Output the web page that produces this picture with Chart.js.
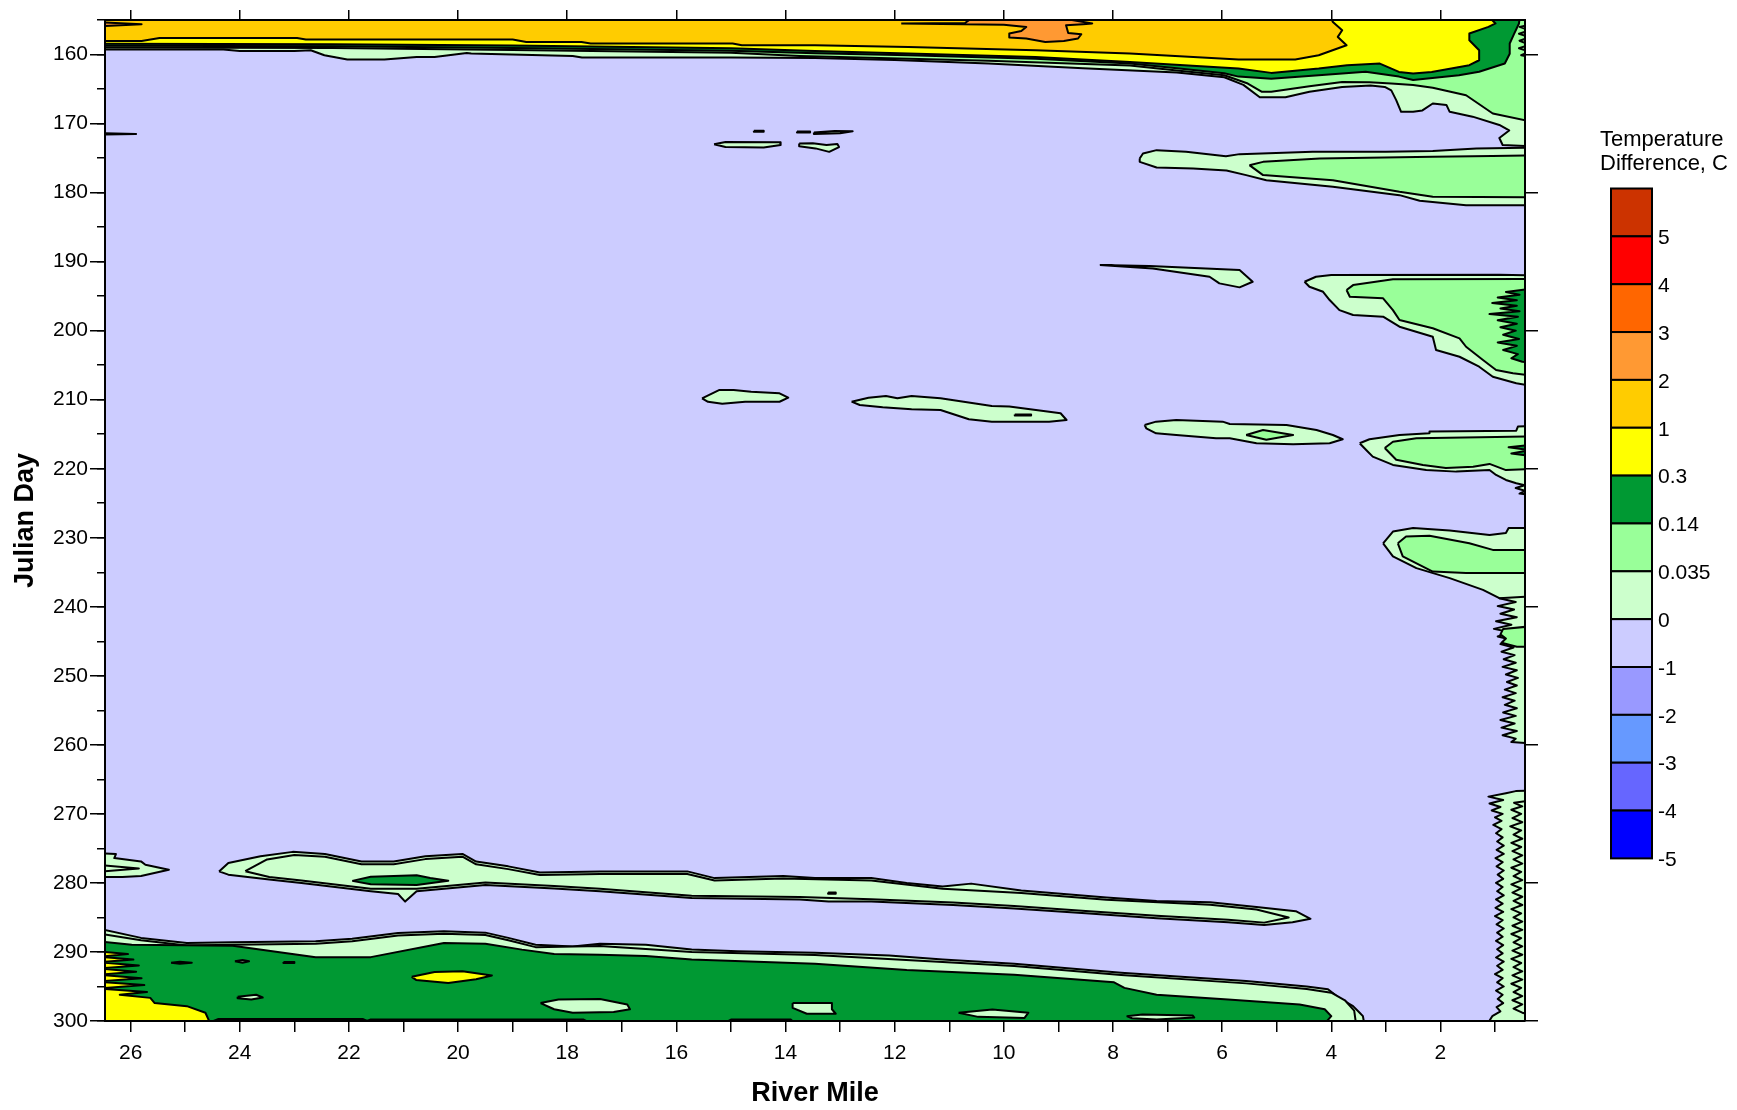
<!DOCTYPE html>
<html>
<head>
<meta charset="utf-8">
<script src="https://cdn.jsdelivr.net/npm/chart.js@4/dist/chart.umd.min.js"></script>
<style>
html,body{margin:0;padding:0;background:#fff;}
canvas{display:block;}
</style>
</head>
<body>
<canvas id="c" width="1737" height="1110"></canvas>
<script>
// ---------- axis ranges ----------
const mileRange = [0.45, 26.47];   // River Mile (reversed: 26.47 left, 0.45 right)
const dayRange = [155, 300];       // Julian Day (reversed: 155 top)

// ---------- legend (colour bar) ----------
const legendLabels = ['5','4','3','2','1','0.3','0.14','0.035','0','-1','-2','-3','-4','-5'];
const legendColors = ['#CC3300','#FF0000','#FF6600','#FF9933','#FFCC00','#FFFF00','#009933','#99FF99','#CCFFCC','#CCCCFF','#9999FF','#6699FF','#6666FF','#0000FF'];
const legendTitle = ['Temperature', 'Difference, C'];
// level index into legendColors
const LAV = 9, PALE = 8, LIGHT = 7, DKG = 6, YEL = 5, GOLD = 4, ORG = 3;

// ---------- contour regions [river mile, julian day] ----------
const baseRegion = [[26.6,154.8],[0.3,154.8],[0.3,300.2],[26.6,300.2],[26.6,154.8]];

const topPale = [[26.6,154.8],[0.3,154.8],[0.3,173.3],[0.86,173.1],[0.92,172.1],[0.74,171.0],[0.92,170.2],[1.41,169.0],[1.83,168.3],[1.89,167.3],[2.14,167.1],[2.33,168.1],[2.5,168.3],[2.72,168.3],[2.81,166.6],[2.9,165.2],[3.02,164.7],[3.28,164.5],[3.8,164.7],[4.4,165.4],[4.84,166.2],[5.31,166.2],[5.61,164.4],[5.96,163.3],[6.83,162.6],[8.55,162.0],[10.28,161.3],[12.0,160.8],[13.46,160.5],[15.0,160.43],[17.73,160.43],[17.9,160.2],[19.76,159.86],[19.84,159.77],[20.43,160.35],[20.76,160.35],[21.35,160.72],[22.03,160.72],[22.45,160.1],[22.7,159.38],[23.0,159.48],[24.0,159.48],[24.3,159.28],[26.6,159.28],[26.6,154.8]];
const topLight = [[26.6,154.8],[0.3,154.8],[0.3,169.76],[1.04,168.54],[1.53,165.9],[2.14,164.8],[2.5,164.4],[2.9,164.2],[3.3,164.0],[3.8,163.97],[4.4,164.6],[5.1,165.4],[5.27,165.4],[5.53,164.2],[5.96,163.0],[6.83,162.3],[7.69,161.6],[10.28,160.9],[13.74,160.2],[15.0,159.75],[19.0,159.35],[22.3,159.05],[26.6,158.98],[26.6,154.8]];
const topDkGreen = [[26.6,154.8],[0.55,154.8],[0.56,155.5],[0.65,157.0],[0.73,158.4],[0.73,159.9],[0.82,161.3],[1.29,162.5],[1.66,163.0],[2.5,163.7],[2.76,163.2],[3.37,162.5],[4.23,163.0],[5.1,163.5],[5.7,163.2],[5.96,162.7],[6.83,162.0],[7.69,161.3],[9.42,160.6],[11.75,160.1],[13.46,159.8],[15.0,159.45],[19.0,159.05],[22.3,158.8],[26.6,158.72],[26.6,154.8]];
const topYellow = [[26.6,154.8],[1.08,154.8],[0.99,155.5],[1.12,156.0],[1.47,156.96],[1.47,157.93],[1.29,159.38],[1.29,160.83],[1.47,161.55],[2.16,162.52],[2.5,162.76],[2.76,162.52],[3.11,161.31],[3.71,161.55],[4.23,162.04],[5.1,162.66],[5.7,162.04],[7.69,161.07],[9.42,160.35],[11.75,159.86],[13.46,159.5],[15.0,159.1],[19.0,158.7],[22.3,158.5],[26.6,158.45],[26.6,154.8]];
const topGold = [[26.6,154.8],[4.0,154.8],[3.97,155.28],[3.8,156.48],[3.88,157.45],[3.72,158.65],[4.23,160.1],[4.66,160.73],[5.7,160.73],[7.69,159.86],[9.42,159.38],[11.75,158.9],[13.46,158.65],[14.8,158.65],[14.97,158.4],[17.57,158.4],[17.74,158.18],[18.75,158.18],[19.0,157.83],[22.79,157.83],[22.95,157.6],[25.47,157.6],[25.8,158.03],[26.6,158.03],[26.6,154.8]];
const topOrange = [[11.88,155.5],[10.71,155.43],[10.6,154.8],[8.9,154.8],[8.38,155.5],[8.55,155.61],[8.86,155.76],[8.82,156.87],[8.58,157.06],[8.64,157.68],[8.9,158.03],[9.24,158.18],[9.59,157.68],[9.9,157.54],[9.9,156.96],[9.68,156.58],[9.59,156.0],[10.0,155.7],[11.88,155.5]];
const topLeftOrange = [[26.6,155.3],[25.8,155.6],[26.6,155.9],[26.6,155.3]];
const topRightZig = [[0.3,155.6],[0.55,156.0],[0.36,156.5],[0.56,157.0],[0.36,157.5],[0.55,158.0],[0.37,158.6],[0.56,159.1],[0.36,159.6],[0.52,160.1],[0.3,160.4],[0.3,155.6]];

const band175Pale = [[7.51,175.06],[7.45,174.33],[7.2,173.85],[6.66,174.1],[5.93,174.72],[5.68,174.43],[4.34,174.1],[3.0,174.1],[2.14,173.96],[1.34,173.61],[0.3,173.5],[0.3,181.82],[1.53,181.82],[2.38,181.19],[2.75,180.37],[3.97,179.17],[5.19,178.2],[5.56,177.47],[5.92,176.8],[6.53,176.5],[7.2,176.36],[7.51,175.55],[7.51,175.06]];
const band175Light = [[5.5,176.03],[5.25,175.55],[4.21,175.06],[2.14,174.8],[1.05,174.7],[0.3,174.6],[0.3,180.7],[2.14,180.61],[2.75,179.89],[3.97,178.2],[5.25,177.47],[5.5,176.03]];

const blob15 = [[15.31,173.0],[15.1,172.67],[14.1,172.7],[14.09,173.1],[14.4,173.47],[15.1,173.4],[15.31,173.0]];
const dash145 = [[14.58,171.05],[14.4,171.05],[14.4,171.2],[14.58,171.2],[14.58,171.05]];
const dash137 = [[13.79,171.15],[13.55,171.15],[13.55,171.3],[13.79,171.3],[13.79,171.15]];
const sliver13 = [[13.48,171.3],[13.1,171.08],[12.77,171.1],[13.0,171.4],[13.48,171.5],[13.48,171.3]];
const blob13 = [[13.75,172.9],[13.5,172.85],[13.25,173.1],[13.05,172.95],[13.02,173.4],[13.2,174.1],[13.45,173.6],[13.75,173.3],[13.75,172.9]];
const leftDash171 = [[26.6,171.4],[25.9,171.5],[26.6,171.62],[26.6,171.4]];

const band190 = [[8.24,190.5],[7.33,190.65],[5.68,191.23],[5.44,192.92],[5.68,193.73],[6.05,193.15],[6.23,192.19],[7.27,190.98],[8.24,190.5]];

const right195Pale = [[4.49,192.92],[4.28,192.19],[4.0,191.95],[0.92,191.9],[0.3,192.0],[0.3,208.0],[0.61,207.63],[1.04,206.67],[1.29,205.22],[1.65,203.78],[2.08,202.81],[2.14,200.88],[2.75,199.43],[3.05,197.98],[3.6,197.74],[3.85,197.02],[4.03,195.57],[4.15,194.37],[4.4,193.64],[4.49,192.92]];
const right195Light = [[3.72,194.12],[3.6,193.4],[2.87,192.57],[0.3,192.5],[0.3,206.5],[0.67,206.18],[0.98,205.7],[1.22,204.25],[1.53,202.33],[1.65,201.11],[2.14,199.66],[2.75,198.46],[2.87,197.02],[3.05,195.32],[3.66,195.09],[3.72,194.12]];
const right195Dk = [[0.3,193.9],[0.8,194.4],[0.55,194.8],[0.95,195.2],[0.6,195.6],[1.05,196.0],[0.6,196.4],[0.9,196.8],[0.55,197.2],[1.1,197.6],[0.58,198.0],[0.95,198.5],[0.6,199.0],[0.9,199.5],[0.62,200.0],[0.85,200.6],[0.56,201.2],[0.95,201.7],[0.6,202.2],[0.85,202.8],[0.58,203.4],[0.7,204.0],[0.5,204.5],[0.3,204.7],[0.3,193.9]];

const blob209a = [[15.53,209.8],[15.21,208.58],[14.95,208.58],[14.63,208.84],[14.11,209.07],[13.95,209.71],[14.11,210.3],[14.74,210.3],[15.16,210.6],[15.42,210.3],[15.53,209.8]];
const blob209b = [[12.79,210.29],[12.48,209.71],[12.16,209.46],[11.95,209.8],[11.69,209.46],[11.16,209.8],[10.22,210.91],[9.9,211.0],[8.96,211.97],[8.85,212.94],[9.17,213.18],[10.22,213.18],[10.64,212.84],[11.16,211.49],[11.69,211.39],[12.22,211.1],[12.64,210.77],[12.79,210.29]];
const dash209 = [[9.8,212.15],[9.5,212.15],[9.5,212.3],[9.8,212.3],[9.8,212.15]];

const band214Pale = [[7.42,213.66],[7.21,213.18],[6.84,212.94],[5.99,213.18],[5.86,213.52],[4.82,213.66],[4.27,214.4],[3.97,215.11],[3.79,215.73],[4.03,216.31],[4.7,216.46],[5.37,216.31],[5.86,215.59],[6.11,215.59],[6.84,215.1],[7.21,214.87],[7.39,214.14],[7.42,213.66]];
const band214Lens = [[5.56,215.11],[5.25,214.4],[4.7,215.11],[5.19,215.8],[5.56,215.11]];

const right218Pale = [[3.48,216.31],[3.3,215.73],[2.75,215.11],[2.2,214.87],[2.2,214.6],[0.61,214.49],[0.58,213.9],[0.3,213.8],[0.3,223.8],[0.55,223.6],[0.45,223.2],[0.62,222.8],[0.45,222.4],[0.61,222.1],[0.8,221.63],[0.98,220.9],[1.1,220.18],[1.71,220.42],[2.26,220.18],[2.87,219.45],[3.24,218.25],[3.36,217.28],[3.48,216.31]];
const right218Light = [[3.02,217.0],[2.87,216.1],[2.44,215.6],[0.98,215.4],[0.3,215.3],[0.3,220.0],[0.8,220.2],[1.1,219.3],[1.4,219.7],[1.9,219.9],[2.32,219.45],[2.81,218.7],[3.02,217.0]];
const right218Dk = [[0.3,216.5],[0.75,216.9],[0.35,217.3],[0.7,217.8],[0.3,218.2],[0.3,216.5]];

const right232Pale = [[3.05,230.8],[2.87,229.1],[2.5,228.6],[1.83,228.96],[1.1,229.6],[0.8,229.3],[0.75,228.6],[0.3,228.6],[0.3,238.9],[0.92,238.75],[1.22,237.55],[1.83,235.85],[2.44,234.4],[2.87,232.7],[3.05,230.8]];
const right232Light = [[2.78,230.8],[2.63,229.83],[2.2,229.7],[1.47,230.8],[1.04,231.76],[0.3,231.76],[0.3,235.1],[1.53,235.1],[2.14,234.9],[2.69,232.7],[2.78,230.8]];

const zigA = [[0.3,238.5],[0.92,238.75],[0.62,239.3],[0.95,239.9],[0.65,240.4],[0.9,241.0],[0.6,241.5],[0.98,242.1],[0.7,242.6],[1.02,243.2],[0.72,243.7],[0.95,244.3],[0.68,244.8],[0.9,245.4],[0.66,245.9],[0.88,246.5],[0.64,247.0],[0.84,247.6],[0.62,248.1],[0.86,248.7],[0.6,249.2],[0.8,249.8],[0.58,250.3],[0.78,250.9],[0.6,251.4],[0.82,252.0],[0.62,252.5],[0.86,253.1],[0.64,253.6],[0.82,254.2],[0.6,254.7],[0.85,255.3],[0.62,255.8],[0.9,256.4],[0.64,256.9],[0.88,257.5],[0.6,258.0],[0.86,258.6],[0.62,259.1],[0.7,259.6],[0.3,259.8],[0.3,238.5]];
const zigALight = [[0.3,242.8],[0.85,243.2],[0.9,244.0],[0.8,244.6],[0.88,245.2],[0.6,245.8],[0.3,245.8],[0.3,242.8]];

const zigB = [[0.3,266.6],[0.62,266.7],[0.8,267.0],[1.12,267.5],[0.85,268.0],[1.1,268.5],[0.9,269.0],[1.06,269.5],[0.86,270.0],[1.0,270.5],[0.88,271.0],[1.03,271.6],[0.88,272.2],[0.98,272.8],[0.86,273.4],[0.96,274.0],[0.84,274.6],[0.97,275.2],[0.84,275.8],[0.99,276.4],[0.86,277.0],[0.97,277.6],[0.84,278.2],[0.95,278.8],[0.85,279.4],[0.98,280.0],[0.86,280.6],[0.96,281.2],[0.84,281.8],[0.98,282.4],[0.86,283.0],[0.99,283.6],[0.85,284.2],[1.0,284.8],[0.86,285.4],[0.97,286.0],[0.84,286.6],[0.96,287.2],[0.86,287.8],[0.98,288.4],[0.85,289.0],[0.96,289.6],[0.86,290.2],[0.98,290.8],[0.84,291.4],[0.96,292.0],[0.86,292.6],[1.0,293.2],[0.86,293.8],[0.96,294.4],[0.84,295.0],[0.98,295.6],[0.86,296.2],[0.95,296.8],[0.85,297.4],[0.97,298.0],[0.9,298.6],[1.05,299.3],[1.12,300.2],[0.3,300.2],[0.3,266.6]];
const zigBInner = [[0.3,268.0],[0.65,268.4],[0.5,268.9],[0.7,269.4],[0.52,270.0],[0.68,270.6],[0.5,271.2],[0.72,271.8],[0.52,272.4],[0.66,273.0],[0.5,273.6],[0.7,274.2],[0.52,274.8],[0.68,275.4],[0.5,276.0],[0.66,276.6],[0.5,277.2],[0.7,277.8],[0.52,278.4],[0.66,279.0],[0.5,279.6],[0.7,280.2],[0.52,280.8],[0.68,281.4],[0.5,282.0],[0.66,282.6],[0.5,283.2],[0.7,283.8],[0.52,284.4],[0.66,285.0],[0.5,285.6],[0.68,286.2],[0.5,286.8],[0.7,287.4],[0.52,288.0],[0.66,288.6],[0.5,289.2],[0.68,289.8],[0.5,290.4],[0.7,291.0],[0.52,291.6],[0.66,292.2],[0.5,292.8],[0.68,293.4],[0.5,294.0],[0.7,294.6],[0.52,295.2],[0.66,295.8],[0.5,296.4],[0.68,297.0],[0.5,297.6],[0.66,298.2],[0.5,298.8],[0.3,299.2],[0.3,268.0]];

const left277Pale = [[26.6,275.67],[26.27,275.81],[26.3,276.4],[25.81,276.88],[25.73,277.36],[25.3,278.08],[25.81,279.0],[26.15,279.14],[26.6,279.14],[26.6,275.67]];
const left277Inner = [[26.6,277.4],[25.85,277.9],[26.6,278.4],[26.6,277.4]];

const band280Pale = [[24.38,278.33],[24.21,277.1],[23.62,276.15],[23.03,275.5],[22.44,275.8],[21.77,276.9],[21.18,276.9],[20.6,276.15],[19.92,275.8],[19.67,276.9],[19.08,277.6],[18.5,278.5],[17.4,278.33],[15.8,278.33],[15.3,279.3],[14.04,279.0],[13.46,279.3],[12.43,279.3],[11.78,280.0],[11.12,280.5],[10.6,280.1],[9.68,281.1],[8.12,282.1],[7.2,282.6],[6.22,282.8],[5.37,283.5],[4.65,284.1],[4.38,285.2],[4.71,285.7],[5.23,286.1],[5.89,285.7],[7.2,285.1],[8.5,284.4],[9.81,283.7],[10.93,283.2],[12.43,282.7],[13.21,282.7],[13.74,282.4],[15.72,282.2],[17.4,281.2],[18.24,280.8],[19.5,280.3],[20.76,281.2],[20.97,282.7],[21.1,281.6],[21.6,281.2],[22.87,280.0],[23.46,279.5],[24.21,278.8],[24.38,278.33]];
const band280Inner = [[23.9,278.3],[23.5,276.6],[23.0,275.95],[22.44,276.2],[21.77,277.3],[21.18,277.3],[20.6,276.55],[19.92,276.2],[19.67,277.3],[19.08,278.0],[18.5,278.85],[17.4,278.7],[15.8,278.7],[15.3,279.65],[14.04,279.35],[12.43,279.65],[11.12,280.85],[9.68,281.45],[8.12,282.45],[6.22,283.15],[5.37,283.85],[4.78,285.0],[5.23,285.75],[5.89,285.35],[7.2,284.75],[8.5,284.05],[9.81,283.35],[10.93,282.85],[12.43,282.35],[13.74,282.05],[15.72,281.85],[17.4,280.85],[18.24,280.45],[19.5,279.95],[20.76,280.85],[21.6,280.85],[22.87,279.65],[23.46,279.15],[23.9,278.3]];
const band280Dk = [[21.94,279.7],[21.6,279.1],[20.76,278.9],[20.51,279.3],[20.18,279.7],[20.76,280.3],[21.6,280.2],[21.94,279.7]];
const dash281 = [[13.22,281.4],[13.08,281.4],[13.08,281.55],[13.22,281.55],[13.22,281.4]];

const bottomPale = [[26.6,286.6],[25.81,287.96],[24.97,288.7],[24.13,288.6],[22.61,288.45],[21.94,288.1],[21.1,287.24],[20.26,287.0],[19.5,287.2],[19.08,287.96],[18.58,288.95],[17.9,289.2],[17.4,288.8],[16.56,288.95],[15.72,289.66],[14.88,289.9],[13.46,290.1],[12.1,290.5],[11.12,291.1],[9.81,291.7],[7.85,293.0],[6.54,293.7],[5.56,294.2],[4.45,295.0],[4.06,295.4],[3.86,296.65],[3.6,297.85],[3.48,298.8],[3.42,299.3],[3.4,300.2],[26.6,300.2],[26.6,286.6]];
const bottomPaleInner = [[26.6,287.3],[25.81,288.3],[24.97,289.05],[24.13,288.95],[22.61,288.8],[21.94,288.45],[21.1,287.6],[20.26,287.35],[19.5,287.55],[19.08,288.3],[18.58,289.3],[17.4,289.15],[15.72,290.0],[13.46,290.45],[11.12,291.45],[9.81,292.05],[7.85,293.35],[5.56,294.55],[4.45,295.35],[4.0,295.9],[3.75,297.0],[3.58,298.5],[3.55,300.2],[26.6,300.2],[26.6,287.3]];
const bottomDk = [[26.6,288.45],[25.98,288.95],[24.13,289.1],[22.61,290.75],[21.6,290.75],[20.26,288.7],[19.5,288.8],[18.83,289.66],[18.24,290.3],[17.4,290.4],[16.56,290.6],[15.72,291.1],[13.46,291.7],[11.78,292.6],[9.81,293.3],[7.98,294.4],[7.79,295.2],[7.2,296.2],[5.89,296.9],[4.58,297.6],[4.12,298.3],[4.0,299.3],[4.1,300.2],[26.6,300.2],[26.6,288.45]];
const bottomYellowLeft = [[26.6,289.9],[26.05,290.3],[26.6,290.7],[25.95,291.1],[26.6,291.5],[25.85,291.95],[26.6,292.4],[25.9,292.85],[26.6,293.3],[25.8,293.8],[26.6,294.3],[25.75,294.8],[26.6,295.3],[25.7,295.8],[26.2,296.2],[25.64,296.65],[25.56,297.4],[24.97,297.85],[24.63,298.8],[24.55,300.2],[26.6,300.2],[26.6,289.9]];
const bottomYellowStrip = [[24.55,300.2],[24.4,299.72],[21.74,299.72],[21.6,300.2],[24.55,300.2]];
const bottomSliver1 = [[21.74,300.2],[21.6,299.78],[17.7,299.8],[17.6,300.2],[21.74,300.2]];
const bottomSliver2 = [[15.1,300.2],[15.0,299.8],[13.9,299.8],[13.85,300.2],[15.1,300.2]];
const yellowBlob20 = [[20.85,293.6],[20.43,292.9],[19.92,292.8],[19.38,293.4],[19.67,293.95],[20.18,294.5],[20.77,294.05],[20.85,293.6]];
const tiny25 = [[25.26,291.55],[25.1,291.4],[24.88,291.55],[25.1,291.7],[25.26,291.55]];
const tiny24 = [[24.09,291.35],[23.95,291.15],[23.83,291.35],[23.95,291.55],[24.09,291.35]];
const tiny23 = [[23.2,291.45],[23.0,291.45],[23.0,291.6],[23.2,291.6],[23.2,291.45]];
const paleBlob24 = [[24.04,296.5],[23.7,296.2],[23.58,296.6],[23.79,296.9],[24.04,296.7],[24.04,296.5]];
const paleBlob17 = [[18.49,297.4],[18.16,296.9],[17.4,296.8],[16.9,297.6],[16.85,298.3],[17.15,298.7],[17.9,298.8],[18.24,298.3],[18.49,297.4]];
const paleBlob13 = [[13.87,297.4],[13.15,297.4],[13.15,298.3],[13.08,298.95],[13.61,298.95],[13.87,298.1],[13.87,297.4]];
const paleBlob10 = [[10.83,298.8],[10.21,298.34],[9.55,298.8],[9.62,299.55],[10.47,299.4],[10.83,298.8]];
const paleBlob7 = [[7.75,299.3],[7.46,299.07],[6.54,299.2],[6.51,299.5],[7.2,299.8],[7.65,299.6],[7.75,299.3]];

// drawing order: first = bottom
const regions = [
  [baseRegion, LAV],
  [topPale, PALE], [topLight, LIGHT], [topDkGreen, DKG], [topYellow, YEL], [topGold, GOLD],
  [topOrange, ORG], [topLeftOrange, ORG], [topRightZig, LIGHT],
  [band175Pale, PALE], [band175Light, LIGHT],
  [blob15, PALE], [dash145, PALE], [dash137, PALE], [sliver13, PALE], [blob13, PALE], [leftDash171, PALE],
  [band190, PALE],
  [right195Pale, PALE], [right195Light, LIGHT], [right195Dk, DKG],
  [blob209a, PALE], [blob209b, PALE], [dash209, PALE],
  [band214Pale, PALE], [band214Lens, LIGHT],
  [right218Pale, PALE], [right218Light, LIGHT], [right218Dk, DKG],
  [right232Pale, PALE], [right232Light, LIGHT],
  [zigA, PALE], [zigALight, LIGHT],
  [zigB, PALE], [zigBInner, PALE],
  [left277Pale, PALE], [left277Inner, PALE],
  [band280Pale, PALE], [band280Inner, PALE], [band280Dk, DKG], [dash281, PALE],
  [bottomPale, PALE], [bottomPaleInner, PALE], [bottomDk, DKG],
  [bottomYellowLeft, YEL], [bottomYellowStrip, YEL], [bottomSliver1, PALE], [bottomSliver2, PALE],
  [yellowBlob20, YEL], [tiny25, PALE], [tiny24, PALE], [tiny23, PALE],
  [paleBlob24, PALE], [paleBlob17, PALE], [paleBlob13, PALE], [paleBlob10, PALE], [paleBlob7, PALE]
];

const FONT = '"Liberation Sans", Arial, Helvetica, sans-serif';
Chart.defaults.font.family = FONT;
Chart.defaults.color = '#000';

const datasets = regions.map(([pts, lvl], i) => ({
  type: 'line',
  data: pts.map(p => ({x: p[0], y: p[1]})),
  fill: 'shape',
  backgroundColor: legendColors[lvl],
  borderColor: '#000',
  borderWidth: i === 0 ? 0 : 2,
  borderJoinStyle: 'round',
  pointRadius: 0,
  pointHoverRadius: 0,
  tension: 0,
  clip: 0,
  order: -i,
  xAxisID: 'x',
  yAxisID: 'y'
}));

const colorbarPlugin = {
  id: 'colorbar',
  afterDraw(chart) {
    const ctx = chart.ctx;
    const x0 = chart.chartArea.right + 86, w = 41, top = 188.5, h = 47.85;
    ctx.save();
    ctx.fillStyle = '#000';
    ctx.font = '22px ' + FONT;
    ctx.textAlign = 'left';
    ctx.textBaseline = 'alphabetic';
    ctx.fillText(legendTitle[0], chart.chartArea.right + 75, 145.5);
    ctx.fillText(legendTitle[1], chart.chartArea.right + 75, 170);
    for (let i = 0; i < legendColors.length; i++) {
      ctx.fillStyle = legendColors[i];
      ctx.fillRect(x0, top + i * h, w, h);
      ctx.strokeStyle = '#000';
      ctx.lineWidth = 2;
      ctx.strokeRect(x0, top + i * h, w, h);
    }
    ctx.fillStyle = '#000';
    ctx.font = '21px ' + FONT;
    ctx.textBaseline = 'middle';
    for (let i = 0; i < legendLabels.length; i++) {
      ctx.fillText(legendLabels[i], x0 + w + 6, top + (i + 1) * h + 2);
    }
    ctx.restore();
  }
};

const tickFont = {family: FONT, size: 21};
const borderOpt = {display: true, color: '#000', width: 2, z: 1};

new Chart(document.getElementById('c'), {
  type: 'line',
  data: {datasets},
  plugins: [colorbarPlugin],
  options: {
    responsive: false,
    devicePixelRatio: 1,
    animation: false,
    events: [],
    layout: {padding: 0},
    plugins: {legend: {display: false}, tooltip: {enabled: false}},
    scales: {
      x: {
        type: 'linear', position: 'bottom', min: mileRange[0], max: mileRange[1], reverse: true,
        ticks: {stepSize: 1, includeBounds: false, autoSkip: false, maxRotation: 0, font: tickFont, color: '#000', padding: 9,
          callback: v => (Number.isInteger(v) && v % 2 === 0) ? String(v) : ''},
        grid: {drawOnChartArea: false, drawTicks: true, tickLength: 11, color: '#000', lineWidth: 1.5},
        border: borderOpt,
        title: {display: true, text: 'River Mile', color: '#000', font: {family: FONT, size: 27, weight: 'bold'}, padding: {top: 0, bottom: 0}},
        afterFit: s => { s.height = 89; }
      },
      xTop: {
        type: 'linear', position: 'top', min: mileRange[0], max: mileRange[1], reverse: true,
        ticks: {stepSize: 2, includeBounds: false, autoSkip: false, display: false},
        grid: {drawOnChartArea: false, drawTicks: true, tickLength: 10, color: '#000', lineWidth: 1.5},
        border: borderOpt,
        afterFit: s => { s.height = 20; }
      },
      y: {
        type: 'linear', position: 'left', weight: 2, min: dayRange[0], max: dayRange[1], reverse: true,
        ticks: {stepSize: 10, includeBounds: false, autoSkip: false, font: tickFont, color: '#000', padding: 2},
        grid: {drawOnChartArea: false, drawTicks: true, tickLength: 15, color: '#000', lineWidth: 1.5},
        border: borderOpt,
        title: {display: true, text: 'Julian Day', color: '#000', font: {family: FONT, size: 27, weight: 'bold'}, padding: {top: 9, bottom: 0}},
        afterFit: s => { s.width = 105; }
      },
      yMinor: {
        type: 'linear', position: 'left', weight: 1, min: dayRange[0], max: dayRange[1], reverse: true,
        ticks: {stepSize: 5, autoSkip: false, display: false},
        grid: {drawOnChartArea: false, drawTicks: true, tickLength: 8, color: '#000', lineWidth: 1.5},
        border: {display: false},
        afterFit: s => { s.width = 0; }
      },
      yRight: {
        type: 'linear', position: 'right', min: dayRange[0], max: dayRange[1], reverse: true,
        ticks: {stepSize: 20, includeBounds: false, autoSkip: false, display: false},
        grid: {drawOnChartArea: false, drawTicks: true, tickLength: 13, color: '#000', lineWidth: 1.5},
        border: borderOpt,
        afterFit: s => { s.width = 212; }
      }
    }
  }
});
</script>
</body>
</html>
